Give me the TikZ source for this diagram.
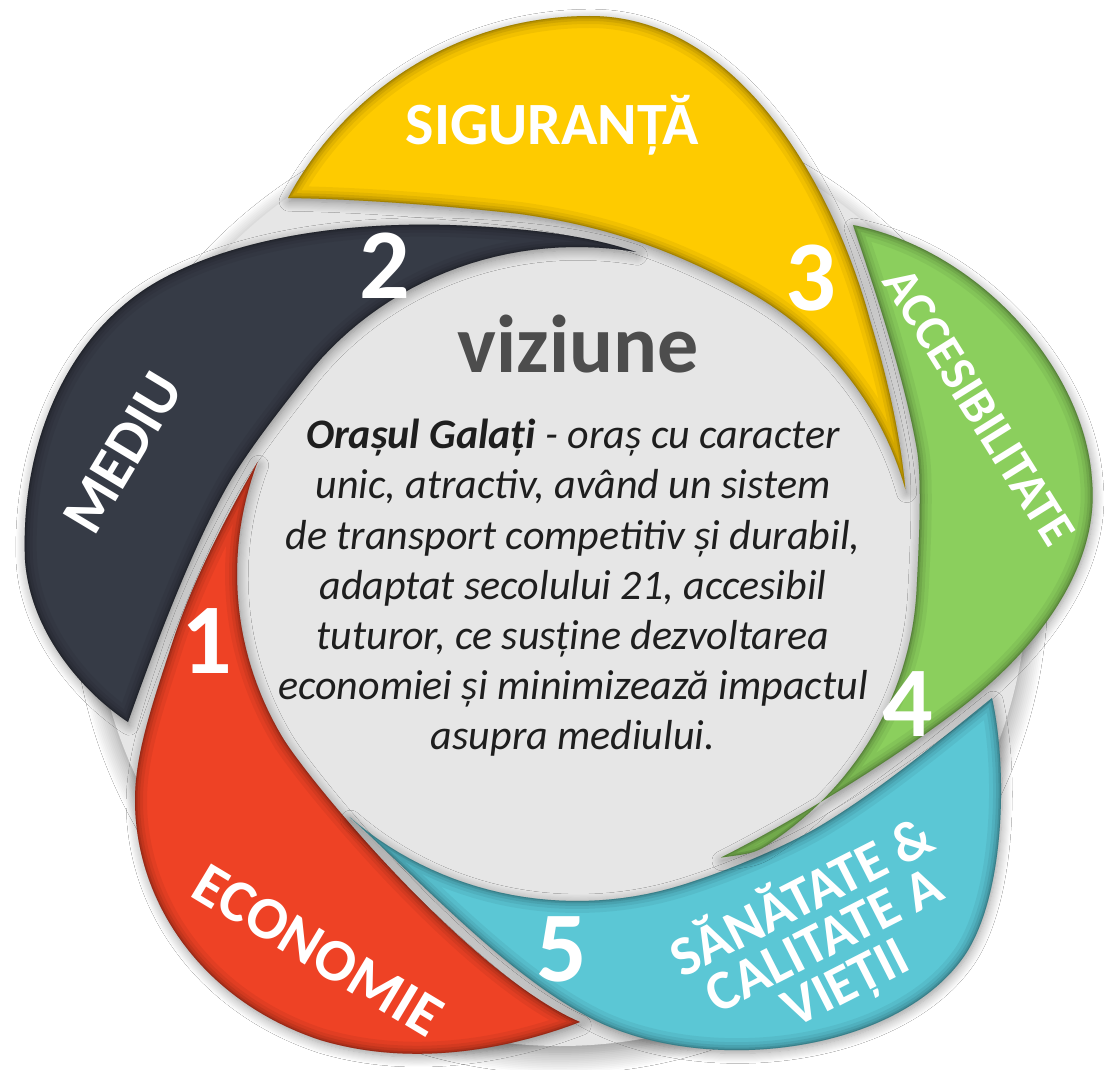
\documentclass[tikz,border=0pt]{standalone}
\usepackage{fontspec}
\setmainfont{Carlito}
\usetikzlibrary{shadows.blur}
\definecolor{cyel}{HTML}{FECB00}
\definecolor{cdark}{HTML}{363B46}
\definecolor{cred}{HTML}{EE4225}
\definecolor{cteal}{HTML}{5BC7D5}
\definecolor{cgreen}{HTML}{8BCF5D}
\definecolor{cbg}{HTML}{E6E6E6}
\definecolor{cbgdark}{HTML}{D0D0D0}
\definecolor{cviz}{HTML}{4D4D4D}
\definecolor{cbody}{HTML}{1E1E1E}
\pgfdeclareradialshading{discshade}{\pgfpointorigin}{color(0bp)=(cbg); color(40bp)=(cbg); color(50bp)=(cbgdark)}

% petal outlines (pixel coordinates, y downwards)
\def\pY{(905.4,489.4) .. controls (900,430) and (885,370) .. (870,320)
  .. controls (835,190) and (740,16) .. (590,16)
  .. controls (450,16) and (340,100) .. (288,198)
  .. controls (360,199) and (450,206) .. (520,214)
  .. controls (590,224) and (659.6,242.3) .. (747,290.8)
  -- plot[domain=-60:-15,samples=30,variable=\t] ({577+340*cos(\t)},{574+327*sin(\t)}) -- cycle}
\def\pD{(636,252) .. controls (590,236) and (530,228) .. (450,225)
  .. controls (350,222) and (240,236) .. (160,280)
  .. controls (70,330) and (20,440) .. (25,560)
  .. controls (30,630) and (80,690) .. (128,722)
  .. controls (150,660) and (192,545) .. (232,478)
  .. controls (253,444) and (280.8,408.7) .. (305.5,377.2)
  -- plot[domain=-143:-80,samples=30,variable=\t] ({577+340*cos(\t)},{574+327*sin(\t)}) -- cycle}
\def\pR{(257.5,462.2) .. controls (230,510) and (192,580) .. (170,650)
  .. controls (152,705) and (135,755) .. (135,800)
  .. controls (135,900) and (200,1000) .. (320,1040)
  .. controls (420,1070) and (520,1045) .. (580,1022)
  .. controls (470,975) and (308.4,780.4) .. (282.6,737.5)
  -- plot[domain=150:200,samples=30,variable=\t] ({577+340*cos(\t)},{574+327*sin(\t)}) -- cycle}
\def\pT{(349.5,817) .. controls (420,880) and (515,985) .. (605,1025)
  .. controls (720,1075) and (900,1050) .. (965,955)
  .. controls (1005,895) and (1008,770) .. (992,698)
  .. controls (940,740) and (880,790) .. (820,826)
  .. controls (794.3,841.4) and (739.4,867.1) .. (682.1,885)
  -- plot[domain=72:132,samples=30,variable=\t] ({577+340*cos(\t)},{574+327*sin(\t)}) -- cycle}
\def\pG{(720.8,857.6) .. controls (780,828) and (875,772) .. (950,716)
  .. controls (1040,650) and (1100,565) .. (1092,480)
  .. controls (1085,370) and (980,250) .. (853,225)
  .. controls (875,290) and (905,380) .. (917,450)
  .. controls (922,479.6) and (919.2,541.2) .. (916.5,591.1)
  -- plot[domain=3:54,samples=30,variable=\t] ({577+340*cos(\t)},{574+327*sin(\t)})
  .. controls (756.4,852.8) .. (720.8,857.6) -- cycle}

\newcommand\petalshade[1]{\begin{scope}\clip #1;
  \foreach \w/\o in {12/.05,8/.06,5/.08,2.5/.10,1/.12}{\draw[line width=\w pt, black, opacity=\o] #1;}
  \end{scope}}

\begin{document}
\begin{tikzpicture}[x=0.5pt,y=-0.5pt,
  lab/.style={text=white, font=\fontsize{30}{30}\selectfont\bfseries, inner sep=0pt},
  num/.style={text=white, font=\fontsize{50}{50}\selectfont\bfseries, inner sep=0pt},
  petalshadow/.style={blur shadow={shadow xshift=0.6pt, shadow yshift=-1.6pt, shadow blur radius=5pt, shadow opacity=40, shadow blur steps=10}}]
\useasboundingbox (0,0) rectangle (1105,1070);
\fill[white] (0,0) rectangle (1105,1070);
% background disc
\shade[shading=discshade, blur shadow={shadow xshift=0pt, shadow yshift=-4pt, shadow blur radius=10pt, shadow opacity=45, shadow blur steps=12}] (560,578) circle[radius=468];
% petals
\fill[cyel, petalshadow] \pY; \petalshade{\pY}
\fill[cdark, petalshadow] \pD; \petalshade{\pD}
\fill[cred, petalshadow] \pR; \petalshade{\pR}
\fill[cteal, petalshadow] \pT; \petalshade{\pT}
\fill[cgreen, petalshadow] \pG; \petalshade{\pG}
% labels
\node[lab, anchor=base] (tsig) at (552,145) {SIGURANȚĂ};
\node[lab, rotate=59] (tmed) at (123,453) {MEDIU};
\node[lab, rotate=-58, font=\fontsize{25}{25}\selectfont\bfseries] (tacc) at (979,407) {ACCESIBILITATE};
\node[lab, rotate=-31] (teco) at (318,950) {ECONOMIE};
\node[lab, rotate=27, align=center, font=\fontsize{28}{24}\selectfont\bfseries] (tsan) at (824,940) {SĂNĂTATE \&\\CALITATE A\\VIEȚII};
% numbers
\node[num] (n1) at (207,641) {1};
\node[num] (n2) at (385,266) {2};
\node[num] (n3) at (811,278) {3};
\node[num] (n4) at (908,704) {4};
\node[num] (n5) at (562,949) {5};
% centre text
\node[text=cviz, font=\fontsize{41}{41}\selectfont\bfseries, anchor=base, inner sep=0pt] (viz) at (578,372) {viziune};
\node[align=center, text=cbody, font=\fontsize{21}{25.1}\selectfont\itshape, inner sep=0pt] (body) at (573,588)
  {\textbf{Orașul Galați} - oraș cu caracter\\unic, atractiv, având un sistem\\de transport competitiv și durabil,\\adaptat secolului 21, accesibil\\tuturor, ce susține dezvoltarea\\economiei și minimizează impactul\\asupra mediului.};
\end{tikzpicture}
\end{document}
